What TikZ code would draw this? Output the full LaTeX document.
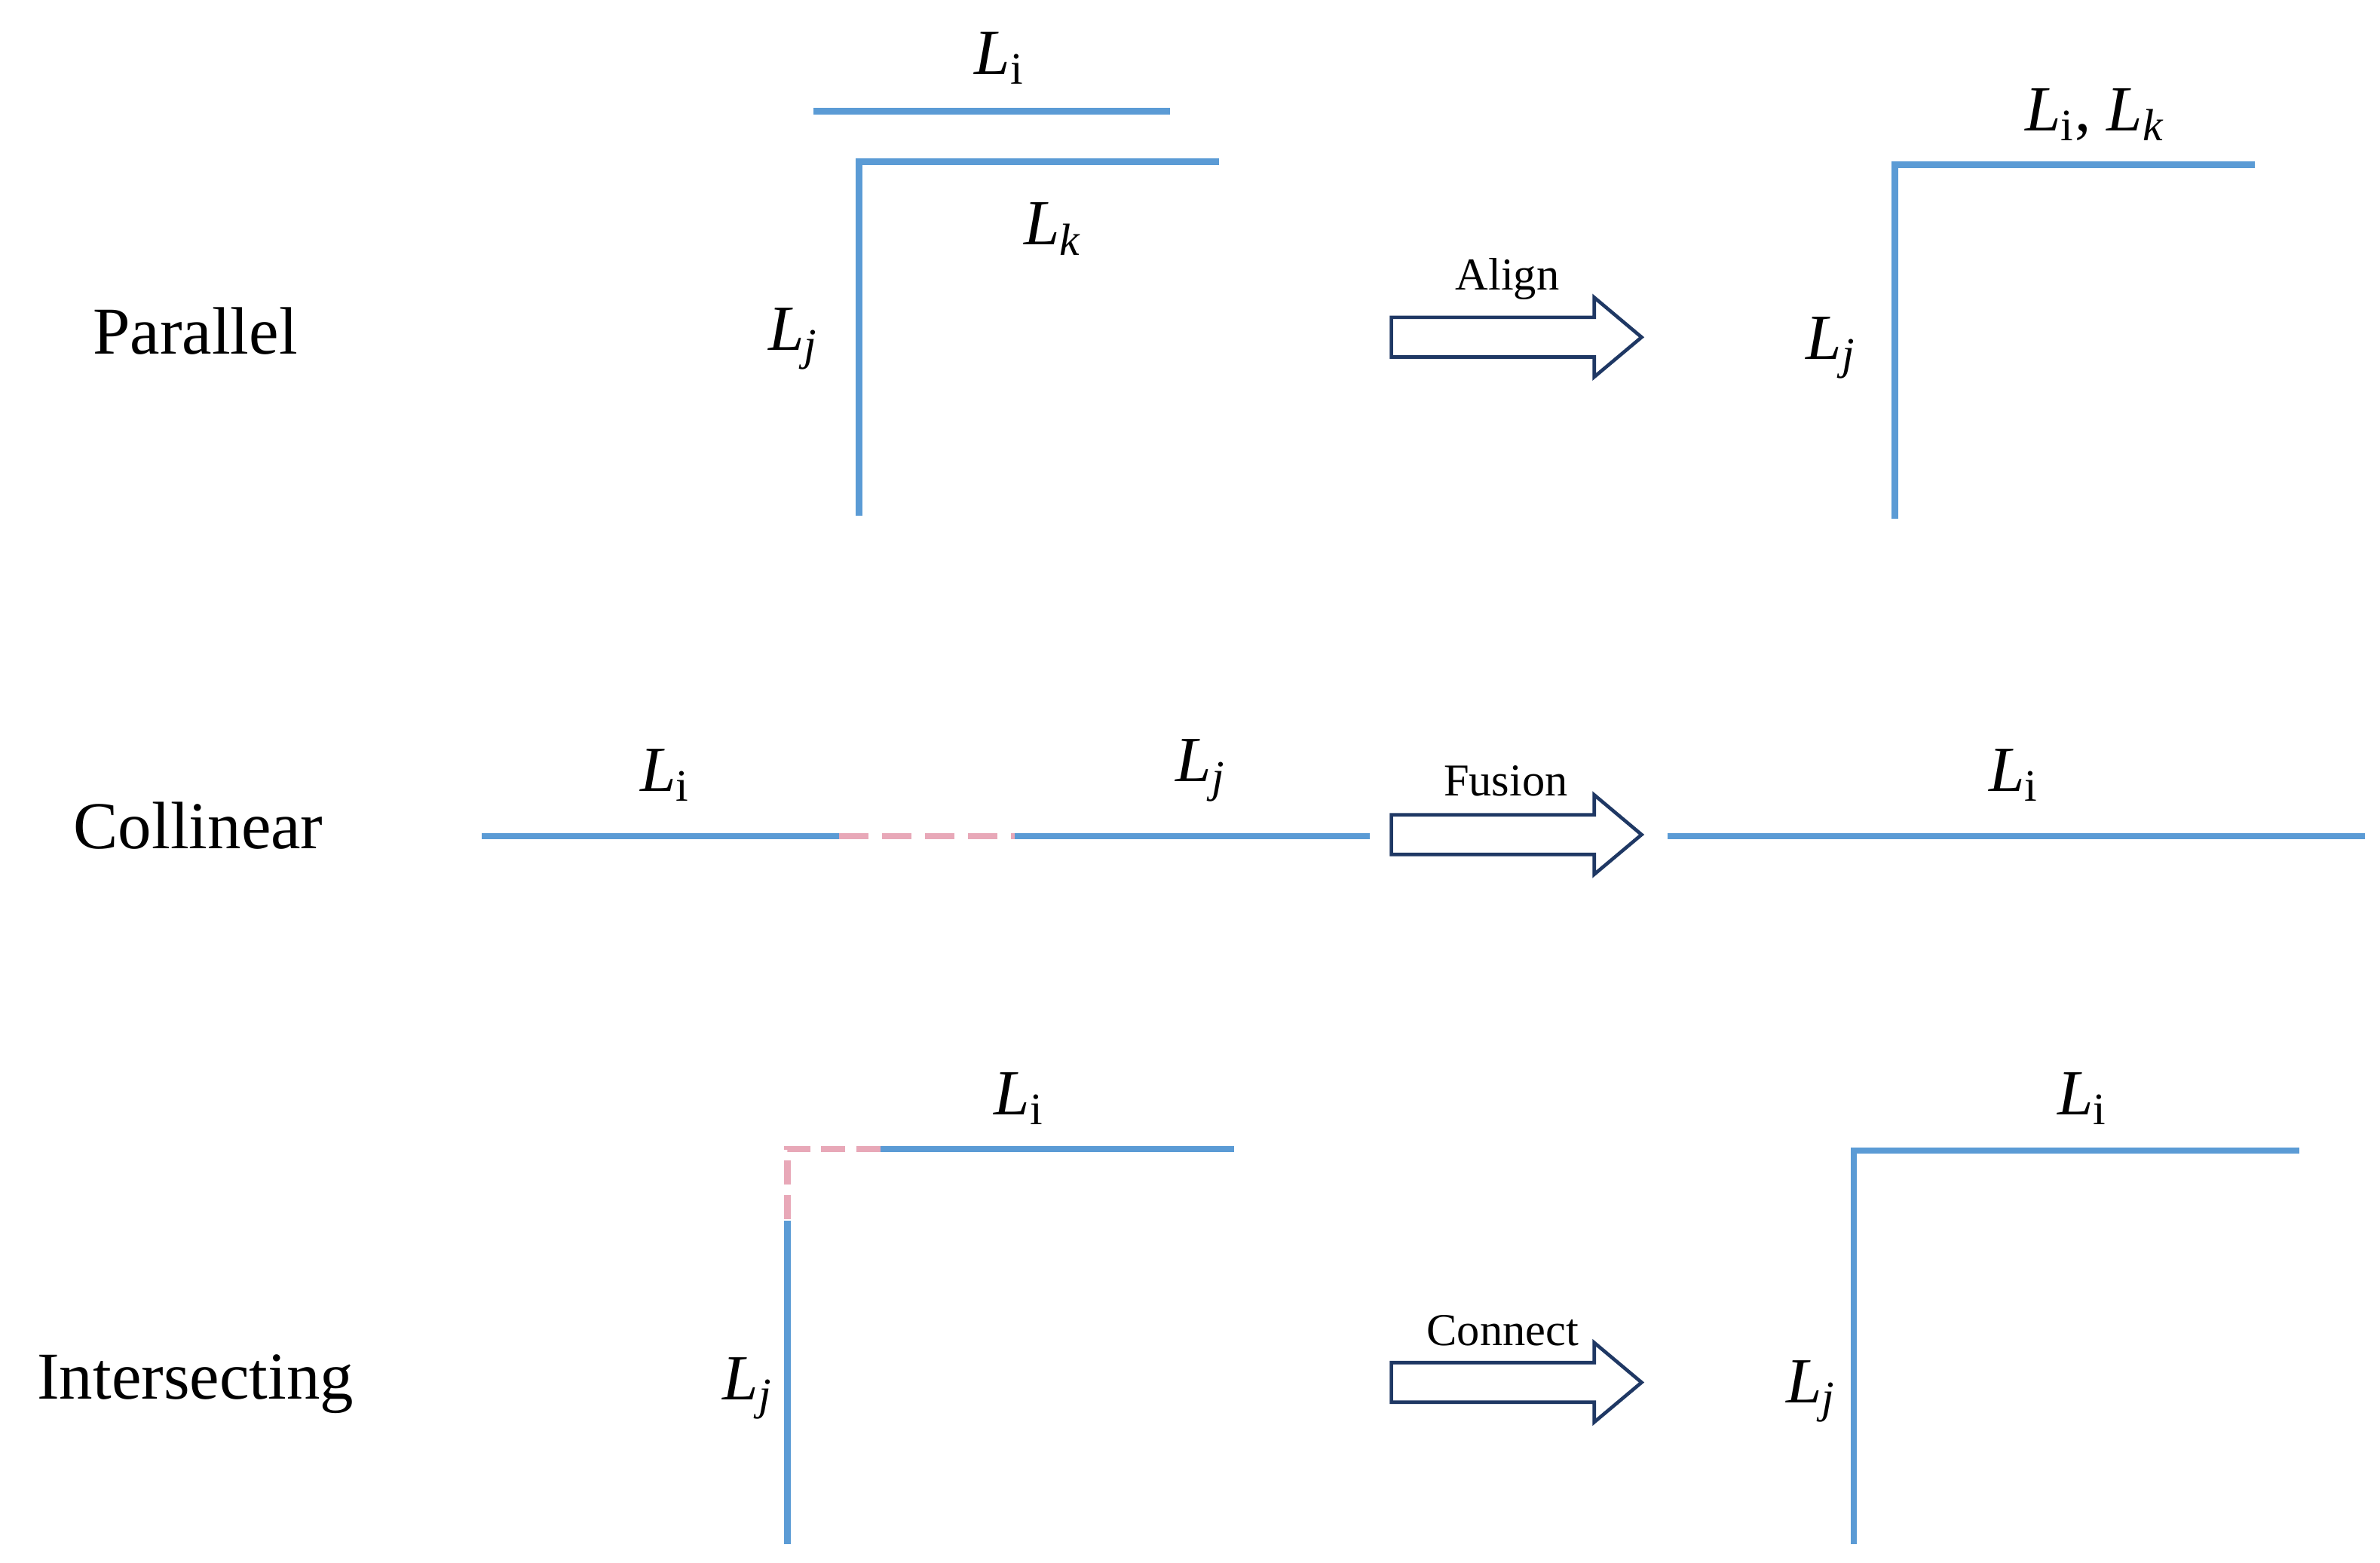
\documentclass[tikz,border=0pt]{standalone}
\usepackage{fontspec}
\setmainfont{Liberation Serif}
\begin{document}
\begin{tikzpicture}[x=0.02cm,y=-0.02cm,
  blue line/.style={line width=2.4pt,draw={rgb,255:red,91;green,155;blue,213}},
  pink line/.style={line width=2.4pt,draw={rgb,255:red,232;green,168;blue,184},dash pattern=on 11pt off 5pt},
  lab/.style={font=\fontsize{24}{28}\selectfont},
  rowlab/.style={font=\fontsize{25}{30}\selectfont},
  arrlab/.style={font=\fontsize{17}{20}\selectfont},
  arr/.style={draw={rgb,255:red,31;green,56;blue,100},line width=1.3pt,fill=white}]
\useasboundingbox (0,0) rectangle (1560,1024);
\newcommand{\myarrow}[1]{\draw[arr] (912,#1-13) -- (1045,#1-13) -- (1045,#1-26) -- (1076,#1) -- (1045,#1+26) -- (1045,#1+13) -- (912,#1+13) -- cycle;}
% Parallel
\node[rowlab] (p) at (128,217) {Parallel};
\coordinate (a1) at (533,73); \coordinate (a2) at (767,73);
\draw[blue line] (a1) -- (a2);
\coordinate (b0) at (563,338); \coordinate (b1) at (563,106); \coordinate (b2) at (799,106);
\draw[blue line] (b0) -- (b1) -- (b2);
\node[lab] at (655,38) {\textit{L}\textsubscript{i}};
\node[lab] at (690,150) {\textit{L\textsubscript{k}}};
\node[lab] at (520,222) {\textit{L\textsubscript{j}}};
\myarrow{221}
\node[arrlab] at (988,183) {Align};
\coordinate (c0) at (1242,340); \coordinate (c1) at (1242,108); \coordinate (c2) at (1478,108);
\draw[blue line] (c0) -- (c1) -- (c2);
\node[lab] at (1373,75) {\textit{L}\textsubscript{i}, \textit{L\textsubscript{k}}};
\node[lab] at (1200,228) {\textit{L\textsubscript{j}}};
% Collinear
\node[rowlab] at (130,541) {Collinear};
\coordinate (d1) at (316,548); \coordinate (d2) at (550,548); \coordinate (d3) at (665,548); \coordinate (d4) at (898,548);
\draw[blue line] (d1) -- (d2);
\draw[pink line] (d2) -- (d3);
\draw[blue line] (d3) -- (d4);
\node[lab] at (436,508) {\textit{L}\textsubscript{i}};
\node[lab] at (787,505) {\textit{L\textsubscript{j}}};
\myarrow{547}
\node[arrlab] at (987,512) {Fusion};
\coordinate (e1) at (1093,548); \coordinate (e2) at (1550,548);
\draw[blue line] (e1) -- (e2);
\node[lab] at (1320,508) {\textit{L}\textsubscript{i}};
% Intersecting
\node[rowlab] at (128,907) {Intersecting};
\coordinate (f1) at (577,753); \coordinate (f2) at (809,753); \coordinate (f0) at (516,753);
\coordinate (f3) at (516,800); \coordinate (f4) at (516,1012);
\draw[blue line] (f1) -- (f2);
\draw[pink line,dash pattern=on 9pt off 4pt] (f1) -- (f0) -- (f3);
\draw[blue line] (f3) -- (f4);
\node[lab] at (668,720) {\textit{L}\textsubscript{i}};
\node[lab] at (490,910) {\textit{L\textsubscript{j}}};
\myarrow{906}
\node[arrlab] at (985,872) {Connect};
\coordinate (g0) at (1215,1012); \coordinate (g1) at (1215,754); \coordinate (g2) at (1507,754);
\draw[blue line] (g0) -- (g1) -- (g2);
\node[lab] at (1365,720) {\textit{L}\textsubscript{i}};
\node[lab] at (1187,912) {\textit{L\textsubscript{j}}};
\end{tikzpicture}
\end{document}
